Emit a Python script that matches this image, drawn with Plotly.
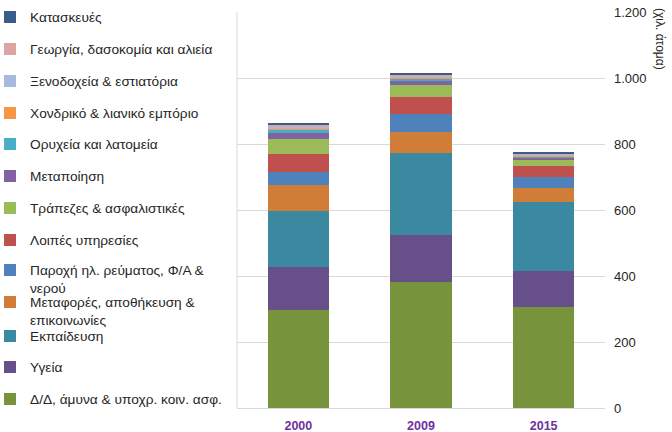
import plotly.graph_objects as go

years = ["2000", "2009", "2015"]

# bottom -> top of the stack
sectors = [
    "Δ/Δ, άμυνα & υποχρ. κοιν. ασφ.",
    "Υγεία",
    "Εκπαίδευση",
    "Μεταφορές, αποθήκευση &<br>επικοινωνίες",
    "Παροχή ηλ. ρεύματος, Φ/Α &<br>νερού",
    "Λοιπές υπηρεσίες",
    "Τράπεζες & ασφαλιστικές",
    "Μεταποίηση",
    "Ορυχεία και λατομεία",
    "Χονδρικό & λιανικό εμπόριο",
    "Ξενοδοχεία & εστιατόρια",
    "Γεωργία, δασοκομία και αλιεία",
    "Κατασκευές",
]

dd_amyna = [297, 381, 306]
ygeia = [131, 143, 109]
ekpaideusi = [170, 248, 209]
metafores = [78, 65, 42]
paroxi = [38, 53, 35]
loipes = [55, 52, 33]
trapezes = [46, 37, 17]
metapoiisi = [20, 14, 7]
oryxeia = [6, 5, 3]
xondriko = [7, 5, 3]
xenodoxeia = [5, 3, 3]
georgia = [7, 4, 4]
kataskeues = [5, 3, 2]

values = [dd_amyna, ygeia, ekpaideusi, metafores, paroxi, loipes, trapezes,
          metapoiisi, oryxeia, xondriko, xenodoxeia, georgia, kataskeues]

colors = ["#77933C", "#675089", "#3A89A0", "#D07D37", "#4F81BD", "#C0504D",
          "#9BBB59", "#8064A2", "#4BACC6", "#F79646", "#A7B9DC", "#DCA4A3",
          "#385D8A"]

# legend row centres (px from top), bottom series first
legend_rows = [399, 367, 336, 311, 279, 240, 208, 176, 144, 113, 81, 49, 17]

W, H = 672, 432
ML, MR, MT, MB = 237, 67, 12, 24
PW, PH = W - ML - MR, H - MT - MB

FONT = "Liberation Sans"
fig = go.Figure()
for i, (name, vals, col) in enumerate(zip(sectors, values, colors)):
    lg = "legend" if i == 0 else f"legend{i+1}"
    fig.add_trace(go.Bar(x=years, y=vals, name=name, marker_color=col,
                         marker_line_width=0, legend=lg))

layout_legends = {}
for i, yc in enumerate(legend_rows):
    key = "legend" if i == 0 else f"legend{i+1}"
    layout_legends[key] = dict(
        xref="paper", yref="container", x=(-10 - ML) / PW, y=1 - yc / H,
        xanchor="left", yanchor="middle", valign="top",
        font=dict(family=FONT, size=13.7, color="#262626"),
        bgcolor="rgba(0,0,0,0)", borderwidth=0,
    )

fig.update_layout(
    width=W, height=H,
    barmode="stack", bargap=0.5,
    separators=",.",
    plot_bgcolor="white", paper_bgcolor="white",
    margin=dict(l=ML, r=MR, t=MT, b=MB, autoexpand=False),
    showlegend=True,
    font=dict(family=FONT, size=13, color="#262626"),
    xaxis=dict(
        type="category", showgrid=False, showline=True, linecolor="#D9D9D9",
        linewidth=1, ticks="", tickfont=dict(family=FONT, size=12.5,
                                               color="#7030A0", weight="bold"),
        ticklabelstandoff=6,
    ),
    yaxis=dict(
        side="right", range=[0, 1200], dtick=200, tickformat=",",
        showgrid=True, gridcolor="#D9D9D9", gridwidth=1, zeroline=False,
        showline=False, ticks="", ticklabelstandoff=8,
        tickfont=dict(family=FONT, size=13, color="#262626"),
    ),
    shapes=[dict(type="line", xref="paper", yref="paper", x0=0, x1=0, y0=0, y1=1,
                 line=dict(color="#D9D9D9", width=1))],
    annotations=[dict(text="(χιλ. άτομα)", xref="paper", yref="paper",
                      x=(660 - ML) / PW, y=1 + (MT - 6) / PH,
                      xanchor="center", yanchor="top",
                      textangle=90, showarrow=False,
                      font=dict(family=FONT, size=12, color="#262626"))],
    **layout_legends,
)

fig.write_html("out.html", config={"displayModeBar": False},
               post_script="document.body.style.margin='0px';")
